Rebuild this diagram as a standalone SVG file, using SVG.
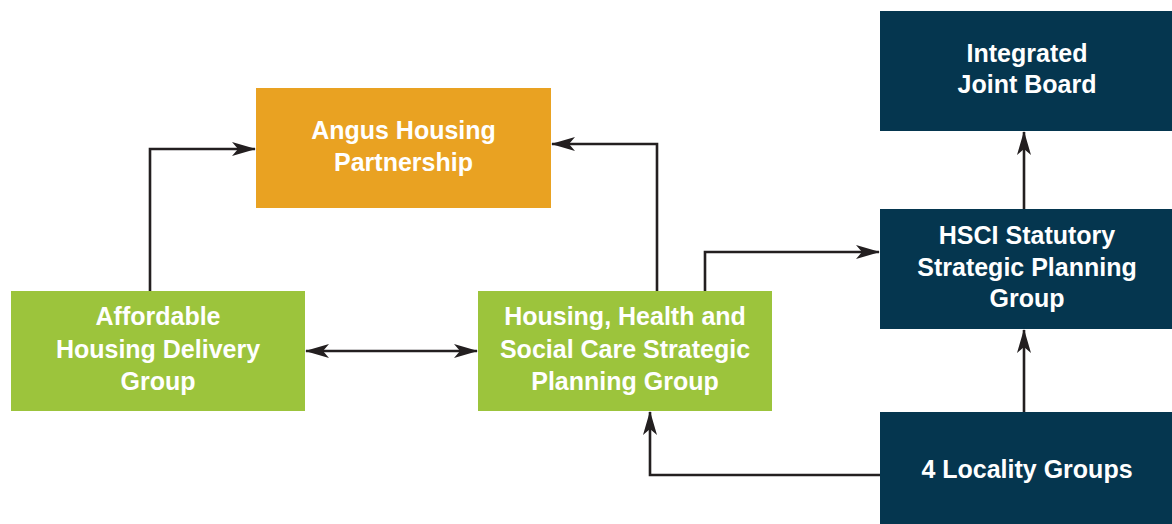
<svg xmlns="http://www.w3.org/2000/svg" width="1172" height="524" viewBox="0 0 1172 524">
  <style>
    .orange { fill: #E9A222; }
    .green { fill: #9CC43C; }
    .navy { fill: #05364F; }
    .label { font-family: "Liberation Sans", Arial, sans-serif; font-weight: bold; font-size: 25px; fill: #FFFFFF; text-anchor: middle; }
    .link { fill: none; stroke: #231F20; stroke-width: 2.6; }
  </style>
  <defs>
    <marker id="head" viewBox="0 0 24 14" refX="23" refY="7" markerWidth="24" markerHeight="14" markerUnits="userSpaceOnUse" orient="auto-start-reverse">
      <path d="M0,0 L24,7 L0,14 L6,7 z" fill="#231F20"/>
    </marker>
  </defs>
  <rect width="1172" height="524" fill="#FFFFFF"/>

  <g id="connectors">
    <path class="link" d="M150,291 V149 H255" marker-end="url(#head)"/>
    <path class="link" d="M657,291 V144 H552" marker-end="url(#head)"/>
    <path class="link" d="M705,291 V252 H879" marker-end="url(#head)"/>
    <path class="link" d="M306,351 H477" marker-start="url(#head)" marker-end="url(#head)"/>
    <path class="link" d="M880,475 H650 V412" marker-end="url(#head)"/>
    <path class="link" d="M1024,209 V132" marker-end="url(#head)"/>
    <path class="link" d="M1024,412 V330" marker-end="url(#head)"/>
  </g>

  <g id="angus-housing-partnership">
    <rect class="orange" x="256" y="88" width="295" height="120"/>
    <text class="label" x="403.5" y="139">Angus Housing</text>
    <text class="label" x="403.5" y="171">Partnership</text>
  </g>

  <g id="affordable-housing-delivery-group">
    <rect class="green" x="11" y="291" width="294" height="120"/>
    <text class="label" x="158" y="325">Affordable</text>
    <text class="label" x="158" y="357.5">Housing Delivery</text>
    <text class="label" x="158" y="390">Group</text>
  </g>

  <g id="hhsc-strategic-planning-group">
    <rect class="green" x="478" y="291" width="294" height="120"/>
    <text class="label" x="625" y="325">Housing, Health and</text>
    <text class="label" x="625" y="357.5">Social Care Strategic</text>
    <text class="label" x="625" y="390">Planning Group</text>
  </g>

  <g id="integrated-joint-board">
    <rect class="navy" x="880" y="11" width="292" height="120"/>
    <text class="label" x="1027" y="61.5">Integrated</text>
    <text class="label" x="1027" y="92.5">Joint Board</text>
  </g>

  <g id="hsci-statutory-group">
    <rect class="navy" x="880" y="209" width="292" height="120"/>
    <text class="label" x="1027" y="243.5">HSCI Statutory</text>
    <text class="label" x="1027" y="275.5">Strategic Planning</text>
    <text class="label" x="1027" y="307">Group</text>
  </g>

  <g id="locality-groups">
    <rect class="navy" x="880" y="412" width="292" height="112"/>
    <text class="label" x="1027" y="478">4 Locality Groups</text>
  </g>
</svg>
